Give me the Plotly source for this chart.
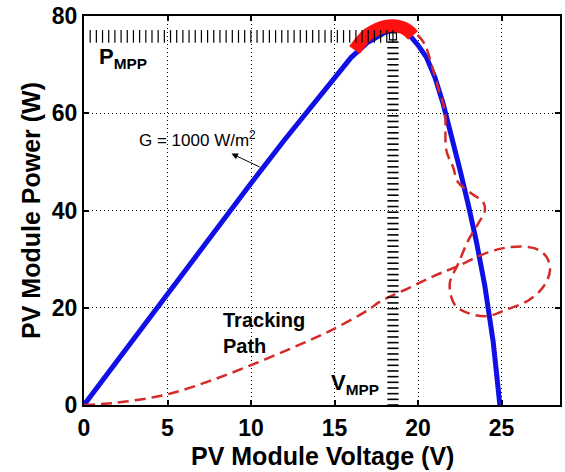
import numpy as np
import plotly.graph_objects as go

# P-V characteristic (G = 1000 W/m^2)
pv_voltage = [0, 2, 4, 6, 8, 10, 12, 14, 16, 17, 18, 18.5, 19, 19.5, 20, 20.5,
              21, 21.5, 22, 22.5, 23, 23.5, 24, 24.5, 24.9]
pv_power = [0, 9.2, 18.4, 27.5, 36.6, 45.6, 54.5, 63.2, 71.5, 74.6, 76.6, 77.2,
            77.2, 76.0, 74.0, 71.5, 67.5, 62.0, 55.5, 48.5, 41.3, 33.5, 24.5, 13.0, 0]

# Tracking path (dashed)
track_voltage = [0, 1, 2.5, 5, 7.5, 10, 12.5, 14.7, 17.0, 17.7, 19.6, 21.0, 22.4,
                 24.2, 25.6, 27.0, 27.7, 27.9, 27.5, 26.6, 25.2, 24.2, 23.0, 22.2,
                 21.9, 22.4, 23.0, 23.6, 24.0, 23.9, 23.2, 22.4, 22.1, 21.7, 21.6,
                 21.2, 20.8, 20.4, 19.9, 19.4]
track_power = [0, 0.2, 0.7, 2.2, 4.9, 8.2, 11.8, 15.2, 19.5, 21.2, 24.3, 26.6, 28.6,
               31.4, 32.5, 32.2, 30.4, 27.7, 24.3, 21.5, 19.5, 18.3, 18.9, 20.6,
               25.0, 29.0, 33.8, 37.3, 40.0, 41.7, 43.5, 45.8, 48.9, 52.3, 60.5,
               65.3, 70.1, 74.2, 76.3, 77.3]

# Oscillation cluster around the MPP
mpp_cluster_voltage = [16.2, 16.6, 17.0, 17.5, 18.0, 18.5, 19.0, 19.4, 19.7]
mpp_cluster_power = [73.0, 74.8, 76.2, 77.2, 77.8, 78.0, 77.7, 77.0, 76.0]

V_MPP = 18.5
P_MPP = 75.8

fig = go.Figure()

fig.add_trace(go.Scatter(x=pv_voltage, y=pv_power, mode="lines",
                         line=dict(color="#1010e6", width=5), hoverinfo="skip"))
fig.add_trace(go.Scatter(x=track_voltage, y=track_power, mode="lines",
                         line=dict(color="#d42a2a", width=2.5, dash="11px,6px", shape="spline"),
                         hoverinfo="skip"))
fig.add_trace(go.Scatter(x=mpp_cluster_voltage, y=mpp_cluster_power, mode="lines",
                         line=dict(color="#ff1010", width=13, shape="spline"), hoverinfo="skip"))

# P_MPP hash line (horizontal) and V_MPP hash line (vertical)
hx = np.linspace(0, V_MPP, 51)[1:]
fig.add_trace(go.Scatter(x=hx, y=[P_MPP] * len(hx), mode="markers",
                         marker=dict(symbol="line-ns", size=9, color="black",
                                     line=dict(color="black", width=1.2)),
                         hoverinfo="skip"))
vy = np.linspace(0, P_MPP, 66)[:-1]
fig.add_trace(go.Scatter(x=[V_MPP] * len(vy), y=vy, mode="markers",
                         marker=dict(symbol="line-ew", size=8, color="black",
                                     line=dict(color="black", width=1.6)),
                         hoverinfo="skip"))
fig.add_trace(go.Scatter(x=[V_MPP], y=[P_MPP], mode="markers",
                         marker=dict(symbol="square-open", size=7, color="black",
                                     line=dict(color="black", width=1.2)),
                         hoverinfo="skip"))

font = "Arial, Liberation Sans, sans-serif"
axis_common = dict(showline=True, linecolor="black", linewidth=2, mirror="ticks",
                   ticks="inside", ticklen=5, tickwidth=1.5, tickcolor="black",
                   showgrid=True, gridcolor="black", gridwidth=1, griddash="1px,3px",
                   zeroline=False,
                   tickfont=dict(family=font, size=23, color="black", weight="bold"))

fig.update_layout(
    width=565, height=472,
    margin=dict(l=84, r=3, t=15, b=67),
    paper_bgcolor="white", plot_bgcolor="white",
    showlegend=False,
    xaxis=dict(range=[0, 28.5], tickvals=[0, 5, 10, 15, 20, 25], ticklabelstandoff=1,
               **axis_common),
    yaxis=dict(range=[0, 80], tickvals=[0, 20, 40, 60, 80],
               title=dict(text="<b>PV Module Power (W)</b>", standoff=4,
                          font=dict(family=font, size=25, color="black")),
               **axis_common),
)

fig.add_annotation(x=0.5, y=-0.131, xref="paper", yref="paper", xanchor="center",
                   yanchor="middle", text="<b>PV Module Voltage (V)</b>", showarrow=False,
                   font=dict(family=font, size=25, color="black"))
fig.add_annotation(x=0.78, y=71.4, xref="x", yref="y", xanchor="left", yanchor="middle",
                   text="<b>P<sub>MPP</sub></b>", showarrow=False,
                   font=dict(family=font, size=22, color="black"))
fig.add_annotation(x=14.67, y=4.3, xref="x", yref="y", xanchor="left", yanchor="middle",
                   text="<b>V<sub>MPP</sub></b>", showarrow=False,
                   font=dict(family=font, size=22, color="black"))
fig.add_annotation(x=3.16, y=54.8, xref="x", yref="y", xanchor="left", yanchor="middle",
                   text="G = 1000 W/m<sup>2</sup>", showarrow=False,
                   font=dict(family=font, size=17, color="black"))
fig.add_annotation(x=8.83, y=51.7, ax=10.61, ay=48.8, xref="x", yref="y",
                   axref="x", ayref="y", text="", showarrow=True,
                   arrowhead=2, arrowsize=1.3, arrowwidth=1, arrowcolor="black")
fig.add_annotation(x=8.23, y=14.8, xref="x", yref="y", xanchor="left", yanchor="middle",
                   text="<b>Tracking<br>Path</b>", showarrow=False, align="left",
                   font=dict(family=font, size=20, color="black"))

fig.write_html("out.html")
